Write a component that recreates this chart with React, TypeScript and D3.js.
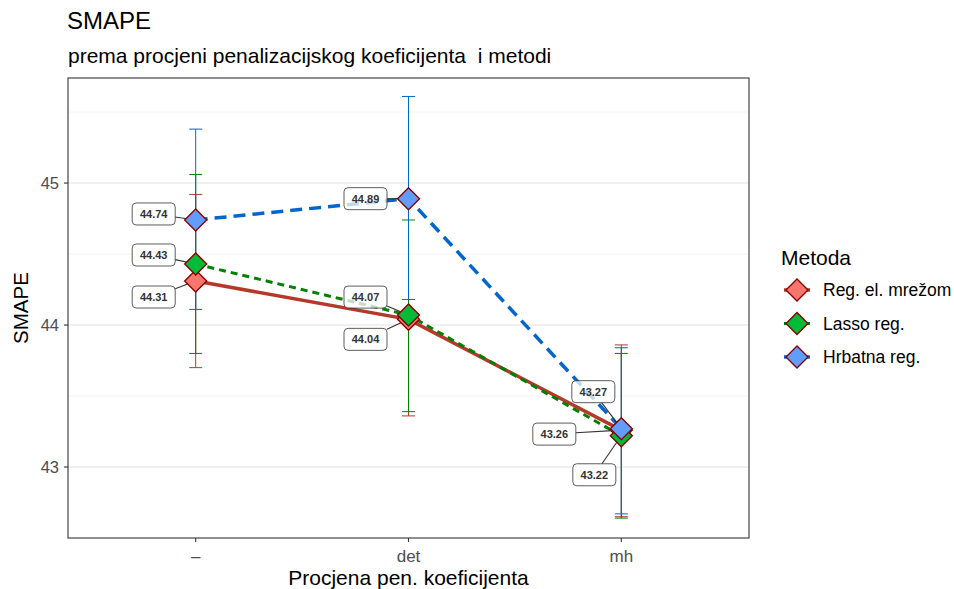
import React from "react";
import * as d3 from "d3";

const categories = ["–", "det", "mh"];
const seriesNames = ["Reg. el. mrežom", "Lasso reg.", "Hrbatna reg."];
const meanReg = [44.31, 44.04, 43.26];
const meanLasso = [44.43, 44.07, 43.22];
const meanRidge = [44.74, 44.89, 43.27];
const lowReg = [43.7, 43.36, 42.65];
const highReg = [44.92, 44.9, 43.86];
const lowLasso = [43.8, 43.39, 42.64];
const highLasso = [45.06, 44.74, 43.8];
const lowRidge = [44.11, 44.18, 42.67];
const highRidge = [45.38, 45.61, 43.84];
const yTicks = [43, 44, 45];
const yMinor = [43.5, 44.5, 45.5];

// label offsets in pixels (layout only)
const labelOffsets = [
  [[-42, 16], [-43, 20], [-67, 4]],
  [[-42, -9], [-43, -18], [-27, 39]],
  [[-42, -6], [-43, 0], [-28, -37]],
];

const fills = ["#F8766D", "#00BA38", "#619CFF"];
const lineColors = ["#B5392B", "#008000", "#0066CC"];
const dashes = [null, "7,5", "12,7"];
const widths = [3.5, 3, 3.5];

const W = 954, H = 589;
const panel = { left: 68, right: 749, top: 78, bottom: 538 };

export default function App() {
  const x = d3.scalePoint<string>().domain(categories).range([panel.left, panel.right]).padding(0.6);
  const y = d3.scaleLinear().domain([42.5, 45.74]).range([panel.bottom, panel.top]);
  const means = [meanReg, meanLasso, meanRidge];
  const lows = [lowReg, lowLasso, lowRidge];
  const highs = [highReg, highLasso, highRidge];
  const line = d3.line<number>().x((_, i) => x(categories[i])!).y((d) => y(d));
  const font = "'Liberation Sans', Arial, Helvetica, sans-serif";
  const diamond = (cx: number, cy: number, r: number) =>
    `M${cx},${cy - r}L${cx + r},${cy}L${cx},${cy + r}L${cx - r},${cy}Z`;
  const bw = 43, bh = 22;

  const labels: any[] = [];
  means.forEach((m, s) =>
    m.forEach((v, i) => {
      const px = x(categories[i])!;
      const py = y(v);
      const [dx, dy] = labelOffsets[s][i];
      const cx = px + dx, cy = py + dy;
      const vx = px - cx, vy = py - cy;
      const tx = Math.abs(vx) > 0 ? (bw / 2) / Math.abs(vx) : Infinity;
      const ty = Math.abs(vy) > 0 ? (bh / 2) / Math.abs(vy) : Infinity;
      const t = Math.min(tx, ty);
      const ex = cx + vx * t, ey = cy + vy * t;
      const dist = Math.hypot(px - ex, py - ey);
      labels.push({ key: `${s}-${i}`, px, py, cx, cy, ex, ey, dist, text: v.toFixed(2) });
    })
  );

  return (
    <svg width={W} height={H} style={{ position: "absolute", left: 0, top: 0 }} fontFamily={font}>
      <rect width={W} height={H} fill="#fff" />
      <text x={67} y={29} fontSize={24} fill="#000">SMAPE</text>
      <text x={68} y={63} fontSize={21} fill="#000" style={{ whiteSpace: "pre" }}>prema procjeni penalizacijskog koeficijenta  i metodi</text>
      {yMinor.map((t) => (
        <line key={t} x1={panel.left} x2={panel.right} y1={y(t)} y2={y(t)} stroke="#F0F0F0" strokeWidth={0.7} />
      ))}
      {yTicks.map((t) => (
        <line key={t} x1={panel.left} x2={panel.right} y1={y(t)} y2={y(t)} stroke="#EBEBEB" strokeWidth={1.4} />
      ))}
      <defs>
        <clipPath id="pc">
          <rect x={panel.left} y={panel.top} width={panel.right - panel.left} height={panel.bottom - panel.top} />
        </clipPath>
      </defs>
      <g clipPath="url(#pc)">
        {means.map((m, s) => (
          <path key={s} d={line(m)!} fill="none" stroke={lineColors[s]} strokeWidth={widths[s]}
            strokeDasharray={dashes[s] ?? undefined} />
        ))}
        {means.map((m, s) =>
          m.map((_, i) => {
            const cx = x(categories[i])!;
            return (
              <g key={`${s}-${i}`} stroke={lineColors[s]} strokeWidth={1}>
                <line x1={cx} x2={cx} y1={y(lows[s][i])} y2={y(highs[s][i])} />
                <line x1={cx - 6.5} x2={cx + 6.5} y1={y(lows[s][i])} y2={y(lows[s][i])} />
                <line x1={cx - 6.5} x2={cx + 6.5} y1={y(highs[s][i])} y2={y(highs[s][i])} />
              </g>
            );
          })
        )}
        {labels.filter((l) => l.dist > 12).map((l) => (
          <line key={"seg" + l.key} x1={l.px} y1={l.py} x2={l.ex} y2={l.ey} stroke="#333" strokeWidth={1.1} />
        ))}
        {means.map((m, s) =>
          m.map((v, i) => (
            <path key={`p${s}-${i}`} d={diamond(x(categories[i])!, y(v), 11)} fill={fills[s]} stroke="#8B0000" strokeWidth={1.4} />
          ))
        )}
        {labels.map((l) => (
          <g key={"lb" + l.key}>
            <rect x={l.cx - bw / 2} y={l.cy - bh / 2} width={bw} height={bh} rx={4} fill="#fff" fillOpacity={0.75}
              stroke="#333" strokeWidth={0.8} />
            <text x={l.cx} y={l.cy + 4} textAnchor="middle" fontSize={11} fontWeight="bold" fill="#333">{l.text}</text>
          </g>
        ))}
      </g>
      <rect x={panel.left} y={panel.top} width={panel.right - panel.left} height={panel.bottom - panel.top}
        fill="none" stroke="#333" strokeWidth={1.1} />
      {yTicks.map((t) => (
        <g key={t}>
          <line x1={panel.left - 4} x2={panel.left} y1={y(t)} y2={y(t)} stroke="#333" strokeWidth={1.1} />
          <text x={panel.left - 9} y={y(t) + 6} textAnchor="end" fontSize={16.5} fill="#4D4D4D">{t}</text>
        </g>
      ))}
      {categories.map((c) => (
        <g key={c}>
          <line x1={x(c)!} x2={x(c)!} y1={panel.bottom} y2={panel.bottom + 4} stroke="#333" strokeWidth={1.1} />
          <text x={x(c)!} y={panel.bottom + 24} textAnchor="middle" fontSize={17} fill="#4D4D4D">{c}</text>
        </g>
      ))}
      <text x={(panel.left + panel.right) / 2} y={585} textAnchor="middle" fontSize={21} fill="#000">Procjena pen. koeficijenta</text>
      <text transform={`translate(28,${(panel.top + panel.bottom) / 2}) rotate(-90)`} textAnchor="middle" fontSize={20.5} fill="#000">SMAPE</text>
      <text x={781} y={265} fontSize={21} fill="#000">Metoda</text>
      {seriesNames.map((n, s) => {
        const cy = 290 + s * 33.5;
        return (
          <g key={n}>
            <line x1={784} x2={810} y1={cy} y2={cy} stroke={lineColors[s]} strokeWidth={widths[s]} />
            <path d={diamond(797, cy, 11)} fill={fills[s]} stroke="#8B0000" strokeWidth={1.4} />
            <text x={823} y={cy + 6} fontSize={17.5} fill="#000">{n}</text>
          </g>
        );
      })}
    </svg>
  );
}
